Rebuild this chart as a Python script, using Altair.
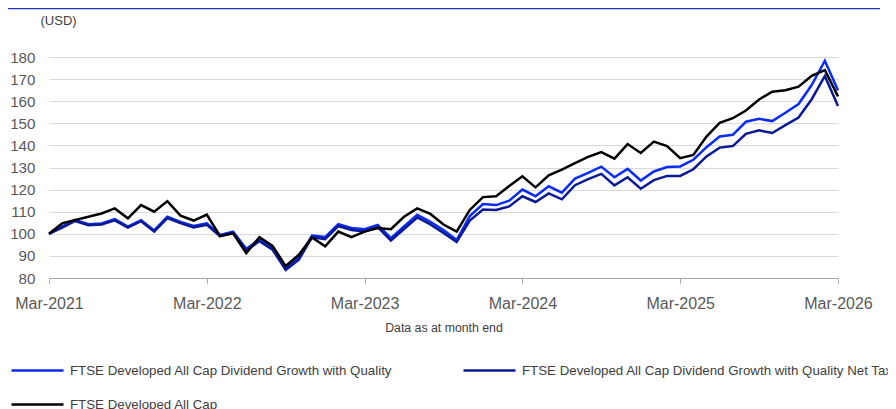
import altair as alt
import pandas as pd

# Month-end observations, Mar-2021 .. Mar-2026
months = pd.date_range("2021-03-01", "2026-03-01", freq="MS").strftime("%b-%Y").tolist()

dgq = [100, 103.2, 106.2, 104.3, 104.7, 106.6, 103.3, 106.2, 101.5, 107.7,
       105.4, 103.5, 104.7, 99.5, 101, 93.2, 97.3, 93.5, 84.4, 89,
       99.2, 98.5, 104.4, 102.6, 102.1, 104, 98, 103.3, 108.6, 105.4,
       101.7, 97.2, 108, 113.5, 113, 115, 120, 117, 121.5, 118.6,
       125, 127.6, 130.4, 125.6, 129.4, 124.1, 128.2, 130.2, 130.5, 133.5,
       139.2, 144, 144.8, 150.7, 152, 151, 154.8, 158.7, 167.3, 178.3, 164.9]

dgq_net = [100, 102.8, 105.8, 103.9, 104.2, 106.1, 102.8, 105.7, 101, 107.1,
           104.8, 102.9, 104.1, 98.9, 100.4, 92.5, 96.6, 92.8, 83.7, 88.3,
           98.4, 97.6, 103.5, 101.7, 101.1, 103, 97, 102.2, 107.4, 104.2,
           100.4, 96.3, 106, 111, 110.8, 112.4, 117, 114.4, 118.3, 115.6,
           122, 124.7, 127.1, 121.9, 125.6, 120.4, 124.3, 126.2, 126.2, 129.2,
           135, 139, 139.7, 145.2, 146.8, 145.6, 149.2, 152.6, 160.9, 171.4, 157.8]

all_cap = [100, 104.7, 106.3, 107.7, 109.2, 111.5, 107, 113, 110, 114.8,
           108.2, 106, 108.7, 99, 100.2, 91.2, 98.5, 94.5, 85.4, 90.5,
           98.3, 94.3, 101, 98.5, 101, 102.6, 102.1, 107.7, 111.5, 109,
           104.2, 101, 110.8, 116.6, 117, 121.6, 126, 121, 126.5, 129,
           132, 134.8, 137, 134, 140.6, 136.6, 141.7, 139.7, 134.2, 135.7,
           144, 150.2, 152.3, 155.8, 160.8, 164.3, 165, 166.6, 171.5, 174.1, 162.2]

series_names = [
    "FTSE Developed All Cap Dividend Growth with Quality",
    "FTSE Developed All Cap Dividend Growth with Quality Net Tax",
    "FTSE Developed All Cap",
]
series_values = [dgq, dgq_net, all_cap]
series_colors = ["#0a2cf5", "#0b1a94", "#000000"]

x_tick_idx = [0, 12, 24, 36, 48, 60]
x_tick_labels = ["Mar-2021", "Mar-2022", "Mar-2023", "Mar-2024", "Mar-2025", "Mar-2026"]
y_ticks = [80, 90, 100, 110, 120, 130, 140, 150, 160, 170, 180]

rows = []
for name, vals in zip(series_names, series_values):
    for i, (m, v) in enumerate(zip(months, vals)):
        rows.append({"idx": i, "month": m, "series": name, "value": v})
df = pd.DataFrame(rows)

label_expr = "{" + ",".join(f"'{k}':'{l}'" for k, l in zip(x_tick_idx, x_tick_labels)) + "}[datum.value]"

x_enc = alt.X(
    "idx:Q",
    scale=alt.Scale(domain=[0, 60], nice=False, zero=False),
    axis=alt.Axis(
        values=x_tick_idx, labelExpr=label_expr, grid=False, labelFlush=False,
        domainColor="#a6a6a6", tickColor="#a6a6a6", tickSize=5,
        labelFontSize=16, labelColor="#595959", labelPadding=12,
        title="Data as at month end", titleFontSize=12.3, titleFontWeight="normal",
        titleColor="#404040", titlePadding=10,
    ),
)
y_enc = alt.Y(
    "value:Q",
    scale=alt.Scale(domain=[80, 180], nice=False, zero=False),
    axis=alt.Axis(
        values=y_ticks, grid=True, gridColor="#d9d9d9", gridWidth=1,
        domain=False, ticks=False, labelFontSize=15.2, labelColor="#595959",
        labelPadding=14, title=None,
    ),
)
color_enc = alt.Color(
    "series:N",
    scale=alt.Scale(domain=series_names, range=series_colors),
    legend=alt.Legend(
        title=None, orient="none", legendX=-39, legendY=286,
        direction="horizontal", columns=2, symbolType="stroke",
        symbolSize=2704, symbolStrokeWidth=2.5, labelFontSize=13.3,
        labelColor="#404040", labelLimit=600, columnPadding=65,
        rowPadding=-18, labelOffset=5,
    ),
)

layers = []
for name in series_names:
    layers.append(
        alt.Chart(df).transform_filter(alt.datum.series == name)
        .mark_line(strokeWidth=2.5, strokeJoin="miter")
        .encode(x=x_enc, y=y_enc, color=color_enc, order="idx:Q")
    )

top_rule = alt.Chart(alt.Data(values=[{}])).mark_rule(color="#1f2fc8", strokeWidth=1.5).encode(
    x=alt.value(-41), x2=alt.value(831), y=alt.value(-48.5)
)
usd = alt.Chart(alt.Data(values=[{}])).mark_text(
    text="(USD)", align="left", baseline="middle", fontSize=13, color="#404040"
).encode(x=alt.value(-8.5), y=alt.value(-36))

chart = alt.layer(*layers, top_rule, usd).properties(
    width=789, height=221,
    autosize=alt.AutoSizeParams(type="none"),
    padding={"left": 41, "top": 49, "right": 50, "bottom": 131},
).configure(font="Liberation Sans").configure_view(stroke=None)

chart.save("out.html", embed_options={"renderer": "svg", "actions": False})
